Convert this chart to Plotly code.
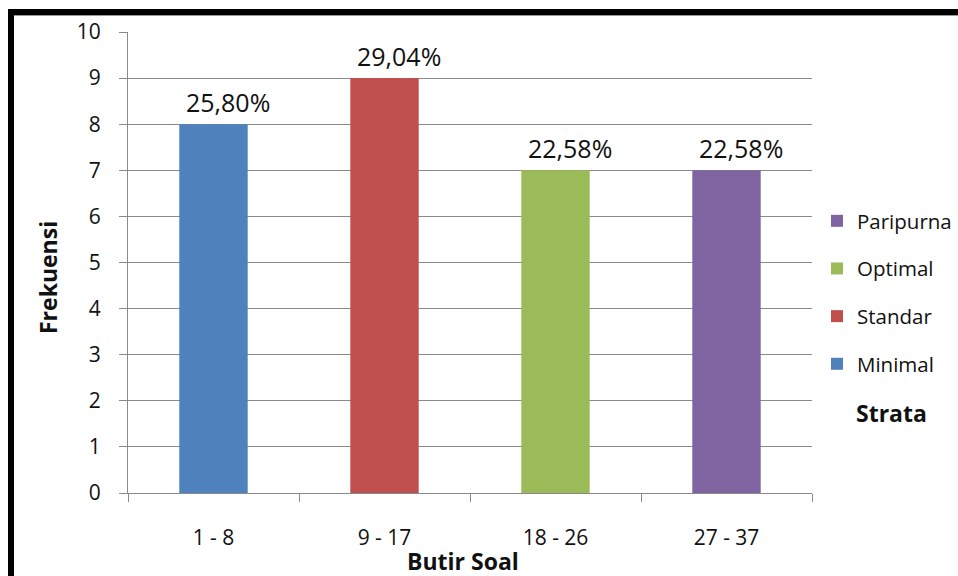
"""
Frekuensi butir soal per strata - bar chart
"""
import plotly.graph_objects as go

# data
categories = ['1 - 8', '9 - 17', '18 - 26', '27 - 37']
strata = ['Minimal', 'Standar', 'Optimal', 'Paripurna']
frekuensi = [8, 9, 7, 7]
persen_labels = ['25,80%', '29,04%', '22,58%', '22,58%']
colors = ['#4F81BD', '#C0504D', '#9BBB59', '#8064A2']

FONT = 'Open Sans'
W, H = 958, 576
# plot area in pixels
L, R, T, B = 128, 812, 32, 493


def px_x(x):
    """pixel -> paper x"""
    return (x - L) / (R - L)


def px_y(y):
    """pixel -> paper y"""
    return (B - y) / (B - T)


fig = go.Figure()
# legend lists the top strata first, so add the traces in reverse
for cat, name, val, col in reversed(list(zip(categories, strata, frekuensi, colors))):
    fig.add_trace(go.Bar(x=[cat], y=[val], name=name, legendgroup=name,
                         marker=dict(color=col, line=dict(width=0)), width=0.4))

# data labels
for cat, val, lbl in zip(categories, frekuensi, persen_labels):
    fig.add_annotation(x=cat, y=val, text=lbl, showarrow=False, yanchor='bottom',
                       xshift=14, yshift=3, font=dict(family=FONT, size=25, color='#111111'))

# axis titles and legend title
title_font = dict(family=FONT, size=23, color='#111111')
fig.add_annotation(xref='paper', yref='paper', x=px_x(48), y=px_y(278), text='<b>Frekuensi</b>',
                   textangle=-90, showarrow=False, xanchor='center', yanchor='middle', font=title_font)
fig.add_annotation(xref='paper', yref='paper', x=px_x(463), y=px_y(561), text='<b>Butir Soal</b>',
                   showarrow=False, xanchor='center', yanchor='middle', font=title_font)
fig.add_annotation(xref='paper', yref='paper', x=px_x(891), y=px_y(413), text='<b>Strata</b>',
                   showarrow=False, xanchor='center', yanchor='middle', font=title_font)

# black frame (top and left)
fig.add_shape(type='line', xref='paper', yref='paper', x0=px_x(8), x1=px_x(958), y0=px_y(12), y1=px_y(12),
              line=dict(color='black', width=6))
fig.add_shape(type='line', xref='paper', yref='paper', x0=px_x(8), x1=px_x(958), y0=px_y(15.5), y1=px_y(15.5),
              line=dict(color='#9a9a9a', width=1))
fig.add_shape(type='line', xref='paper', yref='paper', x0=px_x(11), x1=px_x(11), y0=px_y(9), y1=px_y(576),
              line=dict(color='black', width=6))

fig.update_layout(
    width=W, height=H,
    margin=dict(l=L, r=W - R, t=T, b=H - B, autoexpand=False),
    paper_bgcolor='white', plot_bgcolor='white',
    barmode='overlay',
    font=dict(family=FONT, size=21, color='#111111'),
    legend=dict(xref='container', yref='container', x=817 / W, y=1 - 201 / H,
                xanchor='left', yanchor='top',
                traceorder='grouped', tracegroupgap=18,
                font=dict(family=FONT, size=20.5, color='#111111'),
                itemwidth=30, bgcolor='rgba(0,0,0,0)'),
)
fig.update_yaxes(range=[0, 10], dtick=1, showgrid=True, gridcolor='#8a8a8a', gridwidth=1,
                 showline=True, linecolor='#8a8a8a', linewidth=1,
                 ticks='outside', ticklen=8, tickcolor='#8a8a8a', ticklabelstandoff=14,
                 tickfont=dict(family=FONT, size=21, color='#111111'), zeroline=False)
fig.update_xaxes(categoryorder='array', categoryarray=categories,
                 showline=True, linecolor='#8a8a8a', linewidth=1,
                 ticks='outside', ticklen=8, tickcolor='#8a8a8a', tickson='boundaries',
                 ticklabelstandoff=26,
                 tickfont=dict(family=FONT, size=21, color='#111111'))

fig.write_html("out.html", config={'displayModeBar': False},
               post_script="document.body.style.margin='0px';")
